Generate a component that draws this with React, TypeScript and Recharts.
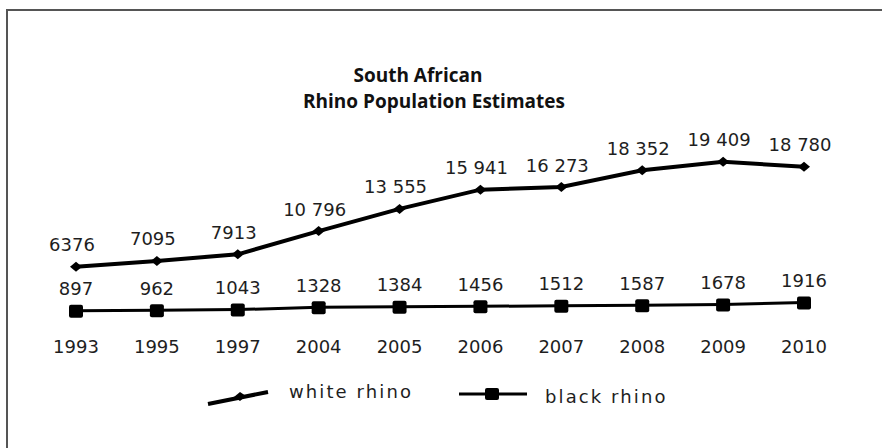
import React from "react";
import { LineChart, Line, XAxis, YAxis, LabelList } from "recharts";

const years = ["1993", "1995", "1997", "2004", "2005", "2006", "2007", "2008", "2009", "2010"];
const whiteRhino = [6376, 7095, 7913, 10796, 13555, 15941, 16273, 18352, 19409, 18780];
const blackRhino = [897, 962, 1043, 1328, 1384, 1456, 1512, 1587, 1678, 1916];
const titleLines = ["South African", "Rhino Population Estimates"];
const seriesNames = ["white rhino", "black rhino"];

const data = years.map((y, i) => ({ year: y, white: whiteRhino[i], black: blackRhino[i] }));

const FONT = "'DejaVu Sans', Verdana, sans-serif";
const TITLE_FONT = "'Open Sans', 'DejaVu Sans', sans-serif";
const TEXT = "#1e1e1e";

const fmt = (v: number) => {
  const s = String(v);
  if (v >= 10000) return s.slice(0, s.length - 3) + " " + s.slice(-3);
  return s;
};

const makeLabel = (dx: number) => (props: any) => {
  const { x, y, value } = props;
  return (
    <text
      x={Number(x) + dx}
      y={Number(y) - 22}
      textAnchor="middle"
      dominantBaseline="central"
      fontFamily={FONT}
      fontSize={18}
      fill={TEXT}
    >
      {fmt(Number(value))}
    </text>
  );
};

const DiamondDot = (props: any) => {
  const { cx, cy } = props;
  if (cx == null || cy == null) return null;
  return (
    <polygon
      key={`d-${cx}`}
      points={`${cx - 6},${cy} ${cx},${cy - 5} ${cx + 6},${cy} ${cx},${cy + 5}`}
      fill="#000"
    />
  );
};

const SquareDot = (props: any) => {
  const { cx, cy } = props;
  if (cx == null || cy == null) return null;
  return <rect key={`s-${cx}`} x={cx - 7} y={cy - 6} width={14} height={13} rx={2} fill="#000" />;
};

const YearTick = (props: any) => {
  const { x, payload } = props;
  return (
    <text
      x={x}
      y={346}
      textAnchor="middle"
      dominantBaseline="central"
      fontFamily={FONT}
      fontSize={18}
      fill={TEXT}
    >
      {payload.value}
    </text>
  );
};

export default function App() {
  return (
    <div style={{ position: "absolute", left: 0, top: 0, width: 882, height: 448, background: "#fff" }}>
      <div
        style={{
          position: "absolute",
          left: 6,
          top: 9,
          width: 876,
          height: 439,
          borderTop: "2px solid #555",
          borderLeft: "2px solid #555",
        }}
      />
      <svg width={882} height={448} style={{ position: "absolute", left: 0, top: 0 }}>
        <text x={418} y={75} textAnchor="middle" dominantBaseline="central" fontFamily={TITLE_FONT} fontWeight="bold" fontSize={19} fill="#111">
          {titleLines[0]}
        </text>
        <text x={434} y={101} textAnchor="middle" dominantBaseline="central" fontFamily={TITLE_FONT} fontWeight="bold" fontSize={19} fill="#111">
          {titleLines[1]}
        </text>
        <line x1={208} y1={404} x2={268} y2={392} stroke="#000" strokeWidth={4} />
        <polygon points="234,397 240,392 246,396 240,401" fill="#000" />
        <text x={289} y={391} dominantBaseline="central" fontFamily={FONT} fontSize={18} letterSpacing={2.1} fill={TEXT}>
          {seriesNames[0]}
        </text>
        <line x1={459} y1={394} x2={527} y2={394} stroke="#000" strokeWidth={3} />
        <rect x={485} y={388} width={14} height={12} rx={2} fill="#000" />
        <text x={545} y={396} dominantBaseline="central" fontFamily={FONT} fontSize={18} letterSpacing={2.1} fill={TEXT}>
          {seriesNames[1]}
        </text>
      </svg>
      <div style={{ position: "absolute", left: 0, top: 0 }}>
        <LineChart width={882} height={448} data={data} margin={{ top: 157, right: 78, bottom: 90, left: 76 }}>
          <XAxis dataKey="year" axisLine={false} tickLine={false} tick={<YearTick />} interval={0} height={40} />
          <YAxis hide domain={[0, 20000]} width={0} />
          <Line
            type="linear"
            dataKey="white"
            name={seriesNames[0]}
            stroke="#000"
            strokeWidth={4}
            dot={<DiamondDot />}
            isAnimationActive={false}
          >
            <LabelList dataKey="white" content={makeLabel(-4)} />
          </Line>
          <Line
            type="linear"
            dataKey="black"
            name={seriesNames[1]}
            stroke="#000"
            strokeWidth={3}
            dot={<SquareDot />}
            isAnimationActive={false}
          >
            <LabelList dataKey="black" content={makeLabel(0)} />
          </Line>
        </LineChart>
      </div>
    </div>
  );
}
